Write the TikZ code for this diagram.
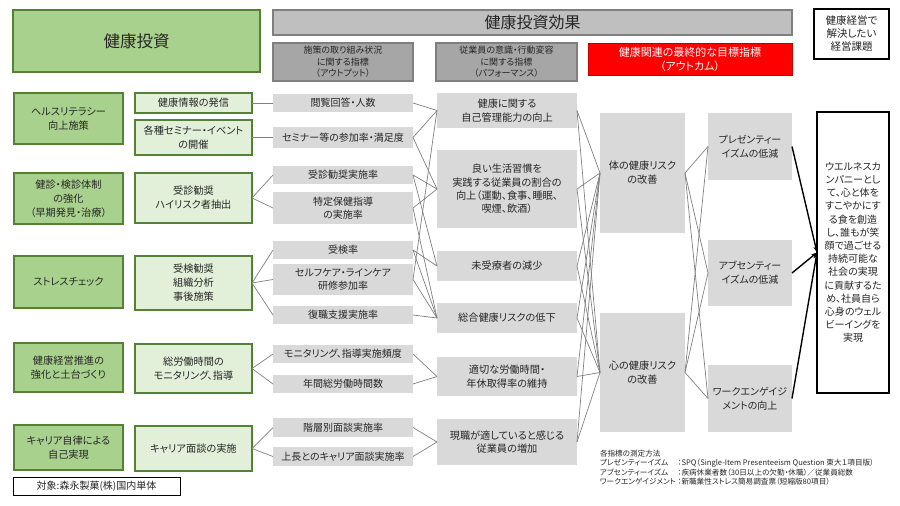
\documentclass[tikz,border=0pt]{standalone}
\usepackage{fontspec}
\setmainfont{Noto Sans CJK JP}[RawFeature=+palt]
\usetikzlibrary{arrows.meta}
\definecolor{grnfill}{HTML}{A9D18E}
\definecolor{grnline}{HTML}{548235}
\definecolor{lgrnfill}{HTML}{E2F0D9}
\definecolor{boxgray}{HTML}{D9D9D9}
\definecolor{hdgray}{HTML}{A6A6A6}
\definecolor{topgray}{HTML}{BFBFBF}
\definecolor{hdline}{HTML}{7F7F7F}
\definecolor{redfill}{HTML}{FF0000}
\definecolor{redline}{HTML}{C00000}
\definecolor{txt}{HTML}{262626}
\definecolor{lnk}{HTML}{808080}
\tikzset{
  % --- Grundformen ------------------------------------------
  base/.style={align=center, inner sep=1pt, outer sep=0pt, text=txt},
  % --- Kopfzeile --------------------------------------------
  bighead/.style={base, draw=grnline, fill=grnfill, line width=2.4pt,
    font=\fontsize{16.5}{20}\selectfont},
  efhead/.style={base, draw=hdline, fill=topgray, line width=2pt,
    font=\fontsize{16}{20}\selectfont},
  colhead/.style={base, draw=hdline, fill=hdgray, line width=2pt,
    font=\fontsize{9}{11.5}\selectfont},
  redhead/.style={base, draw=redline, fill=redfill, line width=1pt,
    text=white, font=\fontsize{11}{14}\selectfont},
  issuebox/.style={base, draw=black, fill=white, line width=2pt,
    font=\fontsize{10.5}{13}\selectfont},
  % --- Spalten ----------------------------------------------
  policy/.style={base, draw=grnline, fill=grnfill, line width=2.4pt,
    minimum width=109pt, font=\fontsize{10.2}{14}\selectfont},
  measure/.style={base, draw=grnline, fill=lgrnfill, line width=2.4pt,
    minimum width=117pt, font=\fontsize{10.2}{14}\selectfont},
  outbox/.style={base, fill=boxgray, minimum width=140pt,
    font=\fontsize{10}{13}\selectfont},
  perfbox/.style={base, fill=boxgray, minimum width=140pt,
    font=\fontsize{10.2}{13.3}\selectfont},
  riskbox/.style={base, fill=boxgray, minimum width=85pt,
    font=\fontsize{10.2}{14}\selectfont},
  goalbox/.style={base, fill=boxgray, minimum width=84pt,
    font=\fontsize{10}{14}\selectfont},
  finalbox/.style={base, draw=black, fill=white, line width=1.3pt,
    font=\fontsize{10}{13.2}\selectfont},
  scopebox/.style={base, draw=black, fill=white, line width=1pt,
    font=\fontsize{10}{12}\selectfont},
  note/.style={base, align=left, inner sep=0pt,
    font=\fontsize{7.6}{9.3}\selectfont},
  % --- Verbinder --------------------------------------------
  ln/.style={draw=lnk, line width=0.7pt},
  arw/.style={-{Stealth[length=6pt, width=4.5pt]}, draw=black, line width=1.4pt}
}

\begin{document}
\begin{tikzpicture}[x=1pt, y=-1pt]
  \useasboundingbox (0,0) rectangle (900,506);

  % --- Kopfzeile ---
  \node[bighead, minimum width=247pt, minimum height=62pt] (inv) at (136.5,41) {健康投資};
  \node[efhead, minimum width=519pt, minimum height=25pt] (eff) at (532.5,22.5) {健康投資効果};
  \node[issuebox, minimum width=75pt, minimum height=50pt] (iss) at (851.5,34)
    {健康経営で\\解決したい\\経営課題};
  \node[colhead, minimum width=140pt, minimum height=38pt] (hout) at (343,62)
    {施策の取り組み状況\\に関する指標\\（アウトプット）};
  \node[colhead, minimum width=141pt, minimum height=38pt] (hperf) at (506.5,62)
    {従業員の意識・行動変容\\に関する指標\\（パフォーマンス）};
  \node[redhead, minimum width=204pt, minimum height=32pt] (hres) at (690,59)
    {健康関連の最終的な目標指標\\（アウトカム）};

  % ---施策 ---
  \node[policy, minimum height=51pt] (p1) at (68.5,118.5) {ヘルスリテラシー\\向上施策};
  \node[policy, minimum height=51pt] (p2) at (68.5,198.5) {健診・検診体制\\の強化\\（早期発見・治療）};
  \node[policy, minimum height=52pt] (p3) at (68.5,282) {ストレスチェック};
  \node[policy, minimum height=49pt] (p4) at (68.5,367.5) {健康経営推進の\\強化と土台づくり};
  \node[policy, minimum height=45pt] (p5) at (68.5,447.5) {キャリア自律による\\自己実現};

  \node[measure, minimum height=20pt] (a1) at (193.5,103) {健康情報の発信};
  \node[measure, minimum height=35pt] (a2) at (193.5,137.5) {各種セミナー・イベント\\の開催};
  \node[measure, minimum height=50pt] (a3) at (193.5,198) {受診勧奨\\ハイリスク者抽出};
  \node[measure, minimum height=54pt] (a4) at (193.5,283) {受検勧奨\\組織分析\\事後施策};
  \node[measure, minimum height=49pt] (a5) at (193.5,368.5) {総労働時間の\\モニタリング、指導};
  \node[measure, minimum height=45pt] (a6) at (193.5,448.5) {キャリア面談の実施};

  % --- アウトプット ---
  \node[outbox, minimum height=18pt] (o1) at (343,103) {閲覧回答・人数};
  \node[outbox, minimum height=21pt] (o2) at (343,137.5) {セミナー等の参加率・満足度};
  \node[outbox, minimum height=18pt] (o3) at (343,175) {受診勧奨実施率};
  \node[outbox, minimum height=32pt] (o4) at (343,208) {特定保健指導\\の実施率};
  \node[outbox, minimum height=18pt] (o5) at (343,250) {受検率};
  \node[outbox, minimum height=31pt] (o6) at (343,279.5) {セルフケア・ラインケア\\研修参加率};
  \node[outbox, minimum height=18pt] (o7) at (343,315) {復職支援実施率};
  \node[outbox, minimum height=18pt] (o8) at (343,354) {モニタリング、指導実施頻度};
  \node[outbox, minimum height=18pt] (o9) at (343,384) {年間総労働時間数};
  \node[outbox, minimum height=19pt] (o10) at (343,427.5) {階層別面談実施率};
  \node[outbox, minimum height=19pt] (o11) at (343,456.5) {上長とのキャリア面談実施率};

  % --- パフォーマンス ---
  \node[perfbox, minimum height=35pt] (f1) at (507,110.5) {健康に関する\\自己管理能力の向上};
  \node[perfbox, minimum height=78pt] (f2) at (507,189)
    {良い生活習慣を\\実践する従業員の割合の\\向上（運動、食事、睡眠、\\喫煙、飲酒）};
  \node[perfbox, minimum height=30pt] (f3) at (507,266) {未受療者の減少};
  \node[perfbox, minimum height=30pt] (f4) at (507,318) {総合健康リスクの低下};
  \node[perfbox, minimum height=39pt] (f5) at (507,376.5) {適切な労働時間・\\年休取得率の維持};
  \node[perfbox, minimum height=46pt] (f6) at (507,442) {現職が適していると感じる\\従業員の増加};

  % --- アウトカム ---
  \node[riskbox, minimum height=120pt] (r1) at (642.5,173) {体の健康リスク\\の改善};
  \node[riskbox, minimum height=119pt] (r2) at (642.5,372.5) {心の健康リスク\\の改善};
  \node[goalbox, minimum height=67pt] (e1) at (750,146.5) {プレゼンティー\\イズムの低減};
  \node[goalbox, minimum height=66pt] (e2) at (750,273) {アブセンティー\\イズムの低減};
  \node[goalbox, minimum height=67pt] (e3) at (750,398.5) {ワークエンゲイジ\\メントの向上};

  \node[finalbox, minimum width=72pt, minimum height=281pt] (fin) at (853,252.5)
    {ウエルネスカ\\ンパニーとし\\て、心と体を\\すこやかにす\\る食を創造\\し、誰もが笑\\顔で過ごせる\\持続可能な\\社会の実現\\に貢献するた\\め、社員自ら\\心身のウェル\\ビーイングを\\実現};

  \node[scopebox, minimum width=167pt, minimum height=18pt] (scp) at (96.5,486)
    {対象:森永製菓(株)国内単体};

  \node[note, anchor=north west] (nt) at (600,450)
    {\begin{tabular}{@{}l@{}l@{}}
     \multicolumn{2}{@{}l}{各指標の測定方法}\\
     プレゼンティーイズム & ：SPQ（Single-Item Presenteeism Question 東大１項目版）\\
     アブセンティーイズム & ：疾病休業者数（30日以上の欠勤・休職）／従業員総数\\
     ワークエンゲイジメント\hspace{2pt} & ：新職業性ストレス簡易調査票（短縮版80項目）
     \end{tabular}};

  % --- 施策 -> アウトプット ---
  \draw[ln] (a1.east) -- (o1.west);
  \draw[ln] (a2.east) -- (o2.west);
  \draw[ln] (a3.east) -- (o3.west);
  \draw[ln] (a3.east) -- (o4.west);
  \draw[ln] (a4.east) -- (o5.west);
  \draw[ln] (a4.east) -- (o6.west);
  \draw[ln] (a4.east) -- (o7.west);
  \draw[ln] (a5.east) -- (o8.west);
  \draw[ln] (a5.east) -- (o9.west);
  \draw[ln] (a6.east) -- (o10.west);
  \draw[ln] (a6.east) -- (o11.west);

  % --- アウトプット -> パフォーマンス ---
  \draw[ln] (o1.east) -- (f1.west);
  \draw[ln] (o2.east) -- (f1.west);
  \draw[ln] (o2.east) -- (f2.west);
  \draw[ln] (o3.east) -- (f2.west);
  \draw[ln] (o3.east) -- (f3.west);
  \draw[ln] (o4.east) -- (f2.west);
  \draw[ln] (o4.east) -- (f4.west);
  \draw[ln] (o5.east) -- (f3.west);
  \draw[ln] (o5.east) -- (f4.west);
  \draw[ln] (o6.east) -- (f1.west);
  \draw[ln] (o6.east) -- (f4.west);
  \draw[ln] (o7.east) -- (f4.west);
  \draw[ln] (o8.east) -- (f5.west);
  \draw[ln] (o9.east) -- (f5.west);
  \draw[ln] (o10.east) -- (f6.west);
  \draw[ln] (o11.east) -- (f6.west);

  % --- パフォーマンス -> 健康リスク ---
  \draw[ln] (f1.east) -- (r1.west);
  \draw[ln] (f1.east) -- (r2.west);
  \draw[ln] (f2.east) -- (r1.west);
  \draw[ln] (f2.east) -- (r2.west);
  \draw[ln] (f3.east) -- (r1.west);
  \draw[ln] (f3.east) -- (r2.west);
  \draw[ln] (f4.east) -- (r1.west);
  \draw[ln] (f4.east) -- (r2.west);
  \draw[ln] (f5.east) -- (r1.west);
  \draw[ln] (f5.east) -- (r2.west);
  \draw[ln] (f6.east) -- (r1.west);
  \draw[ln] (f6.east) -- (r2.west);

  % --- 健康リスク -> 目標指標 ---
  \draw[ln] (r1.east) -- (e1.west);
  \draw[ln] (r1.east) -- (e2.west);
  \draw[ln] (r1.east) -- (e3.west);
  \draw[ln] (r2.east) -- (e1.west);
  \draw[ln] (r2.east) -- (e2.west);
  \draw[ln] (r2.east) -- (e3.west);

  % --- 目標指標 -> 経営課題 ---
  \draw[arw] (e1.east) -- (fin.west);
  \draw[arw] (e2.east) -- (fin.west);
  \draw[arw] (e3.east) -- (fin.west);

\end{tikzpicture}
\end{document}
